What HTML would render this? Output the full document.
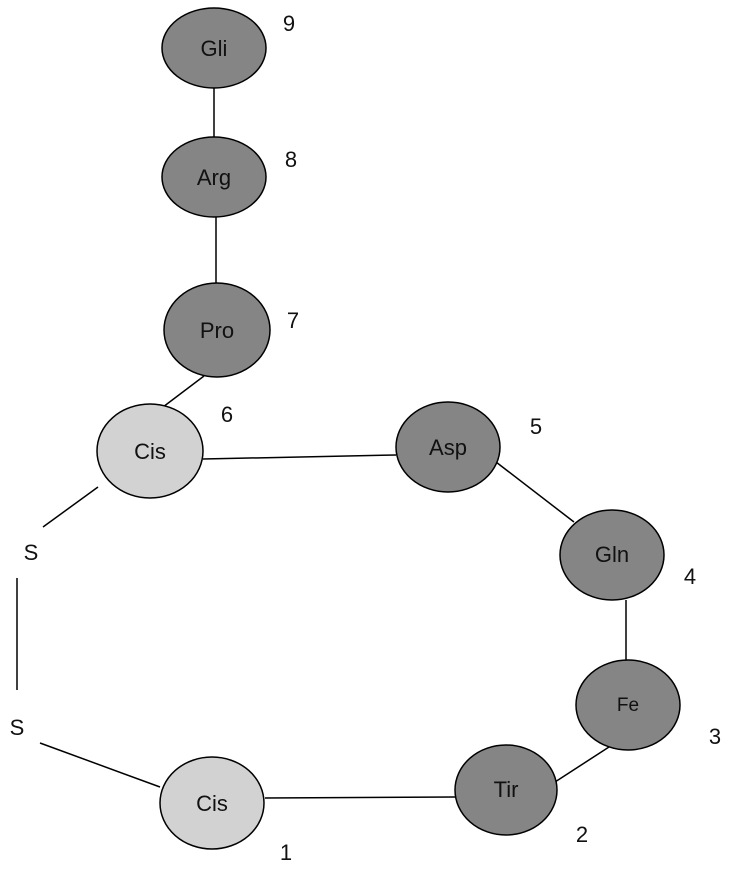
<!DOCTYPE html>
<html><head><style>body{margin:0;background:#fff}svg{display:block}</style></head><body>
<svg width="730" height="870" viewBox="0 0 730 870" xmlns="http://www.w3.org/2000/svg" font-family="Liberation Sans, sans-serif">
<g stroke="#000" stroke-width="1.5" fill="none">
<line x1="214" y1="88" x2="214" y2="137"/>
<line x1="216" y1="217" x2="216" y2="283"/>
<line x1="204" y1="376" x2="163" y2="407"/>
<line x1="203" y1="459" x2="396" y2="455"/>
<line x1="496" y1="462" x2="574" y2="522"/>
<line x1="626" y1="600" x2="626" y2="660"/>
<line x1="609" y1="747" x2="555" y2="782"/>
<line x1="265" y1="798" x2="455" y2="797"/>
<line x1="98" y1="487" x2="43" y2="527"/>
<line x1="17" y1="578" x2="17" y2="690"/>
<line x1="40" y1="743" x2="160" y2="787"/>
</g>
<g stroke="#000" stroke-width="1.5">
<ellipse cx="214" cy="48" rx="52" ry="40" fill="#858585"/>
<ellipse cx="214" cy="177" rx="52" ry="40" fill="#858585"/>
<ellipse cx="217" cy="330" rx="53" ry="47" fill="#858585"/>
<ellipse cx="150" cy="451" rx="53" ry="47" fill="#d2d2d2"/>
<ellipse cx="448" cy="447" rx="52" ry="45" fill="#858585"/>
<ellipse cx="612" cy="555" rx="52" ry="45" fill="#858585"/>
<ellipse cx="628" cy="705" rx="52" ry="45" fill="#858585"/>
<ellipse cx="506" cy="790" rx="51" ry="45" fill="#858585"/>
<ellipse cx="212" cy="803" rx="52" ry="46" fill="#d2d2d2"/>
</g>
<g font-size="22" text-anchor="middle" fill="#111">
<text x="214" y="56">Gli</text>
<text x="214" y="185">Arg</text>
<text x="217" y="338">Pro</text>
<text x="150" y="459">Cis</text>
<text x="448" y="455">Asp</text>
<text x="612" y="562">Gln</text>
<text x="628" y="711" font-size="19">Fe</text>
<text x="506" y="797">Tir</text>
<text x="212" y="811">Cis</text>
<text x="289" y="31">9</text>
<text x="291" y="167">8</text>
<text x="293" y="328">7</text>
<text x="227" y="422">6</text>
<text x="536" y="434">5</text>
<text x="690" y="584">4</text>
<text x="715" y="744">3</text>
<text x="582" y="842">2</text>
<text x="286" y="860">1</text>
<text x="31" y="560">S</text>
<text x="17" y="735">S</text>
</g>
</svg>
</body></html>
